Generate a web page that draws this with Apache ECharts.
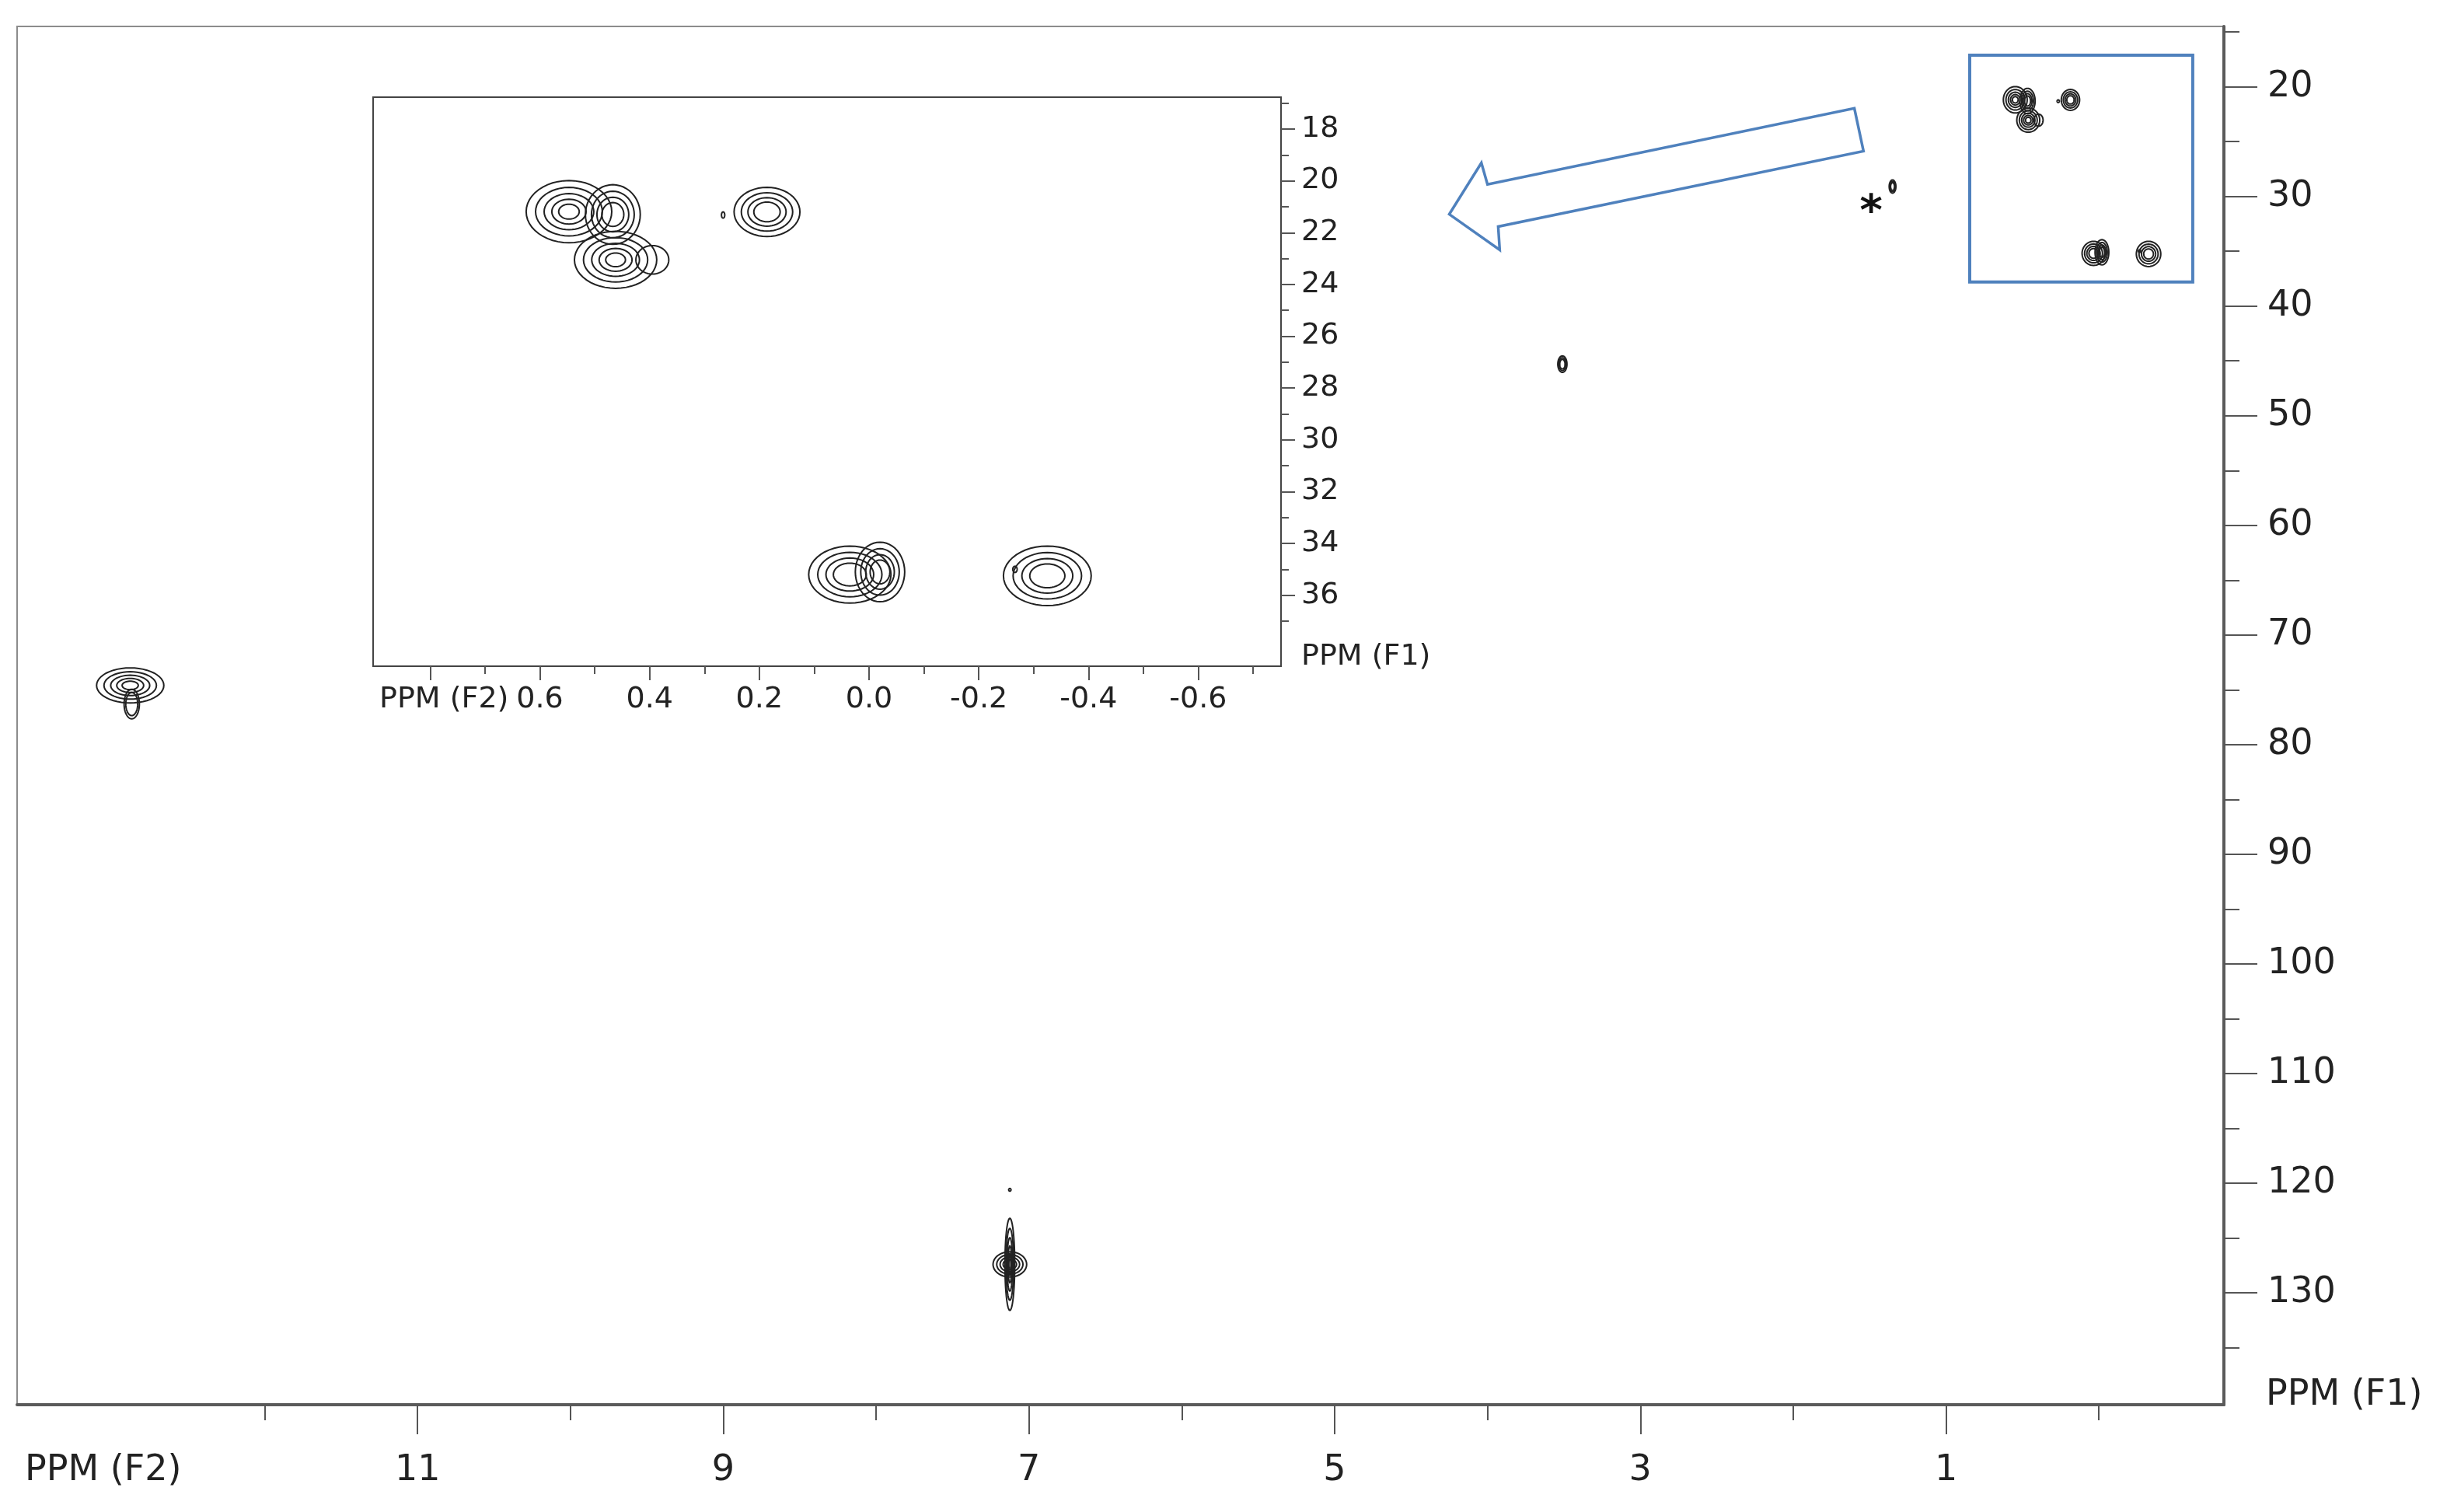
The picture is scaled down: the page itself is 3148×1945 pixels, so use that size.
<!DOCTYPE html>
<html>
<head>
<meta charset="utf-8">
<script src="https://cdn.jsdelivr.net/npm/echarts@6/dist/echarts.min.js"></script>
<style>
html, body { margin: 0; padding: 0; background: #fff; }
#chart { width: 3148px; height: 1945px; }
</style>
</head>
<body>
<div id="chart"></div>
<script>
// cross peaks: F2 = 1H shift, F1 = 13C shift (ppm)
const peakF2 = [12.88, 12.87, 7.125, 7.125, 7.125, 3.51, 1.35, 0.547, 0.467, 0.462, 0.395, 0.266, 0.186, 0.035, -0.02, -0.325, -0.266];
const peakF1 = [74.6, 76.3, 127.4, 127.4, 120.6, 45.3, 29.1, 21.19, 21.3, 23.05, 23.05, 21.32, 21.2, 35.2, 35.1, 35.25, 35.0];
// half widths of the outer contour
const peakHalfF2 = [0.22, 0.05, 0.11, 0.032, 0.004, 0.03, 0.022, 0.078, 0.05, 0.075, 0.03, 0.003, 0.06, 0.075, 0.045, 0.08, 0.004];
const peakHalfF1 = [1.6, 1.35, 1.15, 4.2, 0.12, 0.75, 0.6, 1.2, 1.15, 1.1, 0.55, 0.12, 0.95, 1.1, 1.15, 1.15, 0.12];
// number of contour levels per peak
const peakLevels = [5, 2, 4, 6, 1, 3, 3, 5, 4, 5, 1, 1, 4, 4, 4, 4, 1];
// relative size of each contour level
const contourLevels = [1, 0.78, 0.58, 0.4, 0.24, 0.12];

// tick values
const mainMajorF2 = [11, 9, 7, 5, 3, 1];
const mainMinorF2 = [12, 10, 8, 6, 4, 2, 0];
const mainMajorF1 = [20, 30, 40, 50, 60, 70, 80, 90, 100, 110, 120, 130];
const mainMinorF1 = [15, 25, 35, 45, 55, 65, 75, 85, 95, 105, 115, 125, 135];
const insetMajorF2 = [0.8, 0.6, 0.4, 0.2, 0, -0.2, -0.4, -0.6];
const insetLabelF2 = [0.6, 0.4, 0.2, 0, -0.2, -0.4, -0.6];
const insetMinorF2 = [0.7, 0.5, 0.3, 0.1, -0.1, -0.3, -0.5, -0.7];
const insetMajorF1 = [18, 20, 22, 24, 26, 28, 30, 32, 34, 36];
const insetMinorF1 = [17, 19, 21, 23, 25, 27, 29, 31, 33, 35, 37];

// annotations, in main-axis coordinates
const arrowF2 = [1.60, 1.54, 3.93, 3.92, 4.25, 4.04, 4.00];
const arrowF1 = [21.96, 25.87, 32.75, 34.88, 31.63, 26.94, 28.9];
const boxF2 = [0.845, -0.614];
const boxF1 = [17.13, 37.8];
const starPos = [1.49, 30.7];

const FONT = 'DejaVu Sans';
const BLUE = '#4f81bd';
const peakData = peakF2.map((x, i) => [x, peakF1[i], peakHalfF2[i], peakHalfF1[i], peakLevels[i]]);

function renderContours(params, api) {
  const c = api.coord([api.value(0), api.value(1)]);
  const s = api.size([api.value(2) * 2, api.value(3) * 2], [api.value(0), api.value(1)]);
  const n = api.value(4);
  const children = [];
  for (let k = 0; k < n; k++) {
    const rx = Math.max(s[0] / 2 * contourLevels[k], 1.5);
    const ry = Math.max(s[1] / 2 * contourLevels[k], 1.5);
    const pts = [];
    for (let j = 0; j < 48; j++) {
      const a = j / 48 * Math.PI * 2;
      pts.push([c[0] + rx * Math.cos(a), c[1] + ry * Math.sin(a)]);
    }
    children.push({
      type: 'polygon',
      shape: { points: pts },
      style: { fill: 'none', stroke: '#222', lineWidth: 2 }
    });
  }
  return { type: 'group', children: children };
}

function tickAxis(grid, min, max, ticks, len, position, inverse, extra) {
  return Object.assign({
    type: 'value', gridIndex: grid, min: min, max: max, inverse: inverse, position: position,
    axisLine: { show: false, onZero: false },
    axisTick: { show: true, customValues: ticks, length: len, lineStyle: { color: '#555', width: 2 } },
    axisLabel: { show: false },
    splitLine: { show: false }
  }, extra || {});
}

const mainX = [-0.818, 13.62];
const mainY = [14.5, 140.2];
const insetX = [-0.751, 0.904];
const insetY = [16.77, 38.74];

const mainGrid = { left: 22, top: 34, right: 287, bottom: 138 };
const insetGrid = { left: 480, top: 125, right: 1500, bottom: 1088 };

const option = {
  backgroundColor: '#fff',
  animation: false,
  grid: [
    Object.assign({ show: true, borderColor: '#8c8c8c', borderWidth: 2, backgroundColor: 'transparent' }, mainGrid),
    Object.assign({ show: true, borderColor: '#444', borderWidth: 2, backgroundColor: '#fff' }, insetGrid),
    Object.assign({ show: false }, mainGrid),
    Object.assign({ show: false }, insetGrid)
  ],
  xAxis: [
    tickAxis(0, mainX[0], mainX[1], mainMajorF2, 38, 'bottom', true, {
      axisLine: { show: true, onZero: false, lineStyle: { color: '#5a5a5a', width: 4 } },
      axisLabel: { show: true, customValues: mainMajorF2, fontSize: 46, fontFamily: FONT, color: '#222', margin: 62 }
    }),
    tickAxis(1, insetX[0], insetX[1], insetMajorF2, 18, 'bottom', true, {
      axisLine: { show: true, onZero: false, lineStyle: { color: '#444', width: 2 } },
      axisLabel: { show: true, customValues: insetLabelF2, fontSize: 38, fontFamily: FONT, color: '#222', margin: 24,
        formatter: v => v.toFixed(1) }
    }),
    tickAxis(2, mainX[0], mainX[1], mainMinorF2, 20, 'bottom', true),
    tickAxis(3, insetX[0], insetX[1], insetMinorF2, 10, 'bottom', true)
  ],
  yAxis: [
    tickAxis(0, mainY[0], mainY[1], mainMajorF1, 43, 'right', true, {
      axisLine: { show: true, onZero: false, lineStyle: { color: '#5a5a5a', width: 4 } },
      axisLabel: { show: true, customValues: mainMajorF1, fontSize: 46, fontFamily: FONT, color: '#222', margin: 56,
        padding: [14, 0, 0, 0] }
    }),
    tickAxis(1, insetY[0], insetY[1], insetMajorF1, 18, 'right', true, {
      axisLine: { show: true, onZero: false, lineStyle: { color: '#444', width: 2 } },
      axisLabel: { show: true, customValues: insetMajorF1, fontSize: 38, fontFamily: FONT, color: '#222', margin: 26,
        padding: [8, 0, 0, 0] }
    }),
    tickAxis(2, mainY[0], mainY[1], mainMinorF1, 20, 'right', true),
    tickAxis(3, insetY[0], insetY[1], insetMinorF1, 10, 'right', true)
  ],
  series: [
    {
      name: 'main', type: 'custom', xAxisIndex: 0, yAxisIndex: 0, clip: true,
      encode: { x: 0, y: 1 }, renderItem: renderContours, data: peakData
    },
    {
      name: 'inset', type: 'custom', xAxisIndex: 1, yAxisIndex: 1, clip: true,
      encode: { x: 0, y: 1 }, renderItem: renderContours, data: peakData
    }
  ]
};

const chart = echarts.init(document.getElementById('chart'));
chart.setOption(option);

const toPx = p => chart.convertToPixel({ gridIndex: 0 }, p);
const boxA = toPx([boxF2[0], boxF1[0]]);
const boxB = toPx([boxF2[1], boxF1[1]]);
const arrowPts = arrowF2.map((x, i) => toPx([x, arrowF1[i]]));
const star = toPx(starPos);

function label(x, y, text, size) {
  return {
    type: 'text', x: x, y: y, z: 10,
    style: { text: text, fontSize: size, fontFamily: FONT, fill: '#222', align: 'left', verticalAlign: 'middle' }
  };
}

chart.setOption({
  graphic: [
    {
      type: 'rect', z: 10,
      shape: { x: boxA[0], y: boxA[1], width: boxB[0] - boxA[0], height: boxB[1] - boxA[1] },
      style: { fill: 'none', stroke: BLUE, lineWidth: 4 }
    },
    {
      type: 'polygon', z: 10,
      shape: { points: arrowPts },
      style: { fill: 'none', stroke: BLUE, lineWidth: 3.5 }
    },
    {
      type: 'text', x: star[0], y: star[1] + 12, z: 10,
      style: { text: '*', fontSize: 56, fontWeight: 'bold', fontFamily: FONT, fill: '#111', align: 'center', verticalAlign: 'middle' }
    },
    label(32, 1892, 'PPM (F2)', 46),
    label(2915, 1795, 'PPM (F1)', 46),
    label(488, 900, 'PPM (F2)', 38),
    label(1674, 845, 'PPM (F1)', 38)
  ]
});
</script>
</body>
</html>
